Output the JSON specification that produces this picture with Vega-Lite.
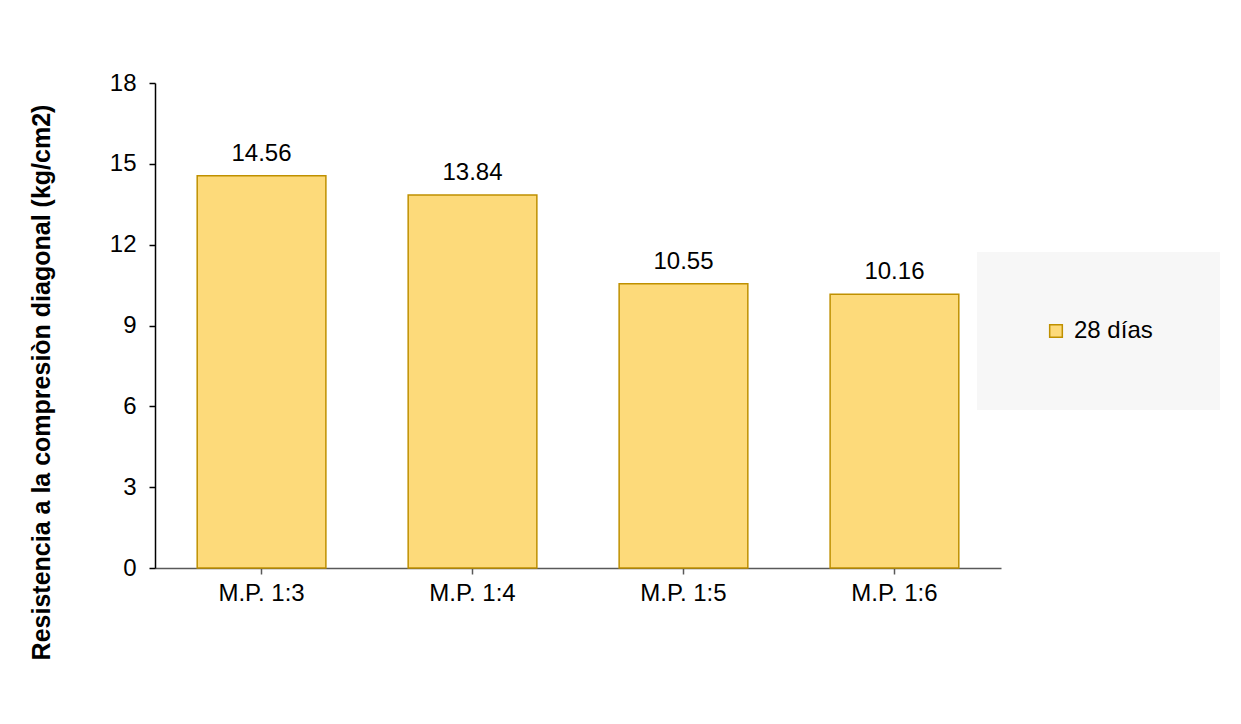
{
  "$schema": "https://vega.github.io/schema/vega-lite/v6.json",
  "width": 846,
  "height": 485,
  "autosize": "none",
  "padding": {"left": 155, "top": 83, "right": 240, "bottom": 156},
  "background": "white",
  "config": {"font": "Liberation Sans", "view": {"stroke": null}},
  "data": {
    "values": [
      {"mezcla": "M.P. 1:3", "resistencia": 14.56, "serie": "28 días"},
      {"mezcla": "M.P. 1:4", "resistencia": 13.84, "serie": "28 días"},
      {"mezcla": "M.P. 1:5", "resistencia": 10.55, "serie": "28 días"},
      {"mezcla": "M.P. 1:6", "resistencia": 10.16, "serie": "28 días"}
    ]
  },
  "encoding": {
    "x": {
      "field": "mezcla",
      "type": "nominal",
      "sort": null,
      "scale": {"paddingInner": 0.39, "paddingOuter": 0.2},
      "axis": {
        "title": null,
        "labelAngle": 0,
        "labelFontSize": 24,
        "labelColor": "#000000",
        "domainColor": "#595959",
        "domainWidth": 1.5,
        "tickColor": "#595959",
        "tickSize": 6,
        "tickWidth": 1.5,
        "labelPadding": 7
      }
    },
    "y": {
      "field": "resistencia",
      "type": "quantitative",
      "scale": {"domain": [0, 18], "nice": false},
      "axis": {
        "values": [0, 3, 6, 9, 12, 15, 18],
        "grid": false,
        "title": "Resistencia a la compresiòn diagonal (kg/cm2)",
        "titleFontSize": 25,
        "titleFontWeight": "bold",
        "titleColor": "#000000",
        "titlePadding": 55,
        "titleY": 299,
        "labelFontSize": 24,
        "labelColor": "#000000",
        "labelPadding": 13,
        "domainColor": "#000000",
        "domainWidth": 1.5,
        "tickColor": "#000000",
        "tickSize": 6,
        "tickWidth": 1.5
      }
    }
  },
  "layer": [
    {
      "mark": {"type": "bar", "stroke": "#BF9000", "strokeWidth": 1.5},
      "encoding": {
        "color": {
          "field": "serie",
          "type": "nominal",
          "scale": {"range": ["#FDDA7A"]},
          "legend": {
            "orient": "none",
            "legendX": 822,
            "legendY": 169,
            "title": null,
            "fillColor": "#F7F7F7",
            "padding": 67,
            "labelFontSize": 24,
            "labelColor": "#000000",
            "labelOffset": 6,
            "symbolType": "square",
            "symbolSize": 160,
            "symbolStrokeColor": "#BF9000",
            "symbolStrokeWidth": 1.5
          }
        }
      }
    },
    {
      "mark": {"type": "text", "baseline": "alphabetic", "dy": -15, "fontSize": 24, "color": "#000000"},
      "encoding": {"text": {"field": "resistencia", "type": "quantitative", "format": ".2f"}}
    }
  ]
}
